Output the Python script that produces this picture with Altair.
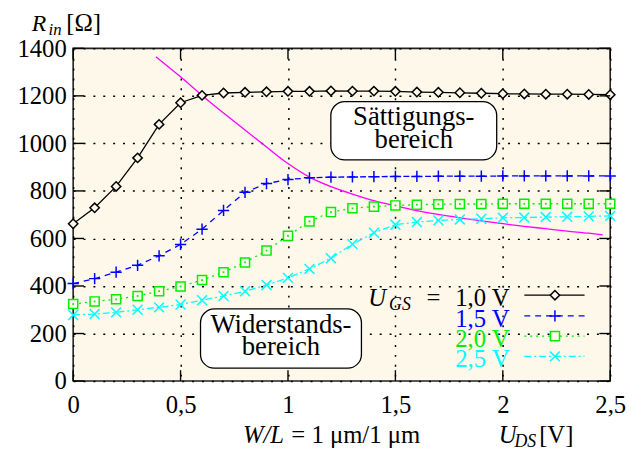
import altair as alt
import pandas as pd

# ---------------- data ----------------
u_ds = [0.0, 0.1, 0.2, 0.3, 0.4, 0.5, 0.6, 0.7, 0.8, 0.9, 1.0, 1.1, 1.2,
        1.3, 1.4, 1.5, 1.6, 1.7, 1.8, 1.9, 2.0, 2.1, 2.2, 2.3, 2.4, 2.5]
r_10 = [662, 729, 819, 939, 1080, 1171, 1202, 1212, 1215, 1217, 1219, 1219, 1221,
        1220, 1220, 1219, 1216, 1215, 1213, 1211, 1209, 1208, 1207, 1207, 1206, 1205]
r_15 = [410, 431, 458, 487, 527, 575, 639, 718, 794, 831, 848, 855, 858,
        859, 860, 861, 861, 862, 862, 862, 863, 863, 863, 863, 863, 863]
r_20 = [324, 335, 344, 358, 378, 398, 425, 458, 499, 549, 611, 672, 711,
        727, 734, 739, 742, 744, 745, 745, 746, 746, 746, 746, 746, 746]
r_25 = [278, 282, 289, 300, 310, 322, 340, 358, 378, 404, 434, 472, 517,
        576, 624, 658, 669, 676, 680, 683, 687, 688, 690, 691, 693, 695]

border_x = [0.385, 0.5, 0.6, 0.7, 0.8, 0.9, 1.0, 1.1, 1.2, 1.3, 1.4, 1.5,
            1.6, 1.7, 1.8, 1.9, 2.0, 2.1, 2.2, 2.3, 2.4, 2.465]
border_r = [1365, 1280, 1202, 1128, 1056, 985, 915, 858, 818, 787, 759, 737,
            717, 701, 687, 674, 662, 651, 641, 631, 622, 615]

x_ticks = [0, 0.5, 1, 1.5, 2, 2.5]
y_ticks = [0, 200, 400, 600, 800, 1000, 1200, 1400]

legend_labels = ["1,0 V", "1,5 V", "2,0 V", "2,5 V"]
box_sat = ["Sättigungs-", "bereich"]
box_wid = ["Widerstands-", "bereich"]

# ---------------- style ----------------
FONT = "Liberation Serif"
BG = "#fdf8ea"
W, H = 544, 337

xs = alt.Scale(domain=[0, 2.5], nice=False, zero=False)
ys = alt.Scale(domain=[0, 1400], nice=False, zero=False)

x_axis = alt.Axis(values=x_ticks, title=None, grid=True, gridColor="black",
                  gridDash=[2, 8], gridWidth=1.5, ticks=False, tickSize=0,
                  domain=False, labelFont=FONT, labelFontSize=25,
                  labelColor="black", labelPadding=32,
                  labelBaseline="alphabetic", labelFlush=False,
                  labelExpr="replace(format(datum.value, '~g'), '.', ',')")
y_axis = alt.Axis(values=y_ticks, title=None, grid=True, gridColor="black",
                  gridDash=[2, 8], gridWidth=1.5, ticks=False, tickSize=0,
                  domain=False, labelFont=FONT, labelFontSize=25,
                  labelColor="black", labelPadding=7, format="d",
                  labelFlush=False)


def X(f):
    return alt.X(f, scale=xs, axis=x_axis)


def Y(f):
    return alt.Y(f, scale=ys, axis=y_axis)


one = pd.DataFrame({"a": [0]})


def text(t, x, y, size, style="normal", align="left", color="black"):
    return alt.Chart(one).mark_text(
        text=t, font=FONT, fontSize=size, fontStyle=style, align=align,
        baseline="alphabetic", color=color).encode(
        x=alt.value(x), y=alt.value(y))


layers = []

# magenta boundary curve
df_b = pd.DataFrame({"U": border_x, "R": border_r})
layers.append(alt.Chart(df_b).mark_line(color="#ff00ff", strokeWidth=1.3,
                                        interpolate="monotone").encode(
    x=X("U:Q"), y=Y("R:Q")))

plus_path = "M-1,0L1,0M0,-1L0,1"
x_path = "M-1,-1L1,1M-1,1L1,-1"

series = [
    (r_10, "black", None, "diamond", 90, True),
    (r_15, "#0000ff", [6, 5], plus_path, 130, False),
    (r_20, "#00ee00", [2, 4], "square", 85, True),
    (r_25, "#00ffff", [7, 3, 2, 3], x_path, 100, False),
]

for vals, col, dash, shape, size, fill_bg in series:
    df = pd.DataFrame({"U": u_ds, "R": vals})
    lk = dict(color=col, strokeWidth=1.3)
    if dash:
        lk["strokeDash"] = dash
    layers.append(alt.Chart(df).mark_line(**lk).encode(x=X("U:Q"), y=Y("R:Q")))
    pk = dict(shape=shape, size=size, stroke=col, strokeWidth=1.5,
              opacity=1, clip=False)
    if fill_bg:
        pk.update(filled=True, fill=BG, fillOpacity=1)
    else:
        pk.update(filled=False)
    layers.append(alt.Chart(df).mark_point(**pk).encode(x=X("U:Q"), y=Y("R:Q")))
    if shape == "square":
        layers.append(alt.Chart(df).mark_point(
            shape="square", size=3, filled=True, color=col, opacity=1).encode(
            x=X("U:Q"), y=Y("R:Q")))

# inward ticks on all four sides
dxt = pd.DataFrame({"t": x_ticks})
dyt = pd.DataFrame({"t": y_ticks})
for y0, y1 in [(H, H - 11), (0, 11)]:
    layers.append(alt.Chart(dxt).mark_rule(color="black", strokeWidth=1.4).encode(
        x=X("t:Q"), y=alt.value(y0), y2=alt.value(y1)))
for x0, x1 in [(0, 11), (W, W - 11)]:
    layers.append(alt.Chart(dyt).mark_rule(color="black", strokeWidth=1.4).encode(
        y=Y("t:Q"), x=alt.value(x0), x2=alt.value(x1)))

# region boxes
for (bx0, bx1, by0, by1), lines in [((261, 429, 54, 113), box_sat),
                                    ((129, 292, 264, 324), box_wid)]:
    layers.append(alt.Chart(one).mark_rect(
        fill="white", stroke="black", strokeWidth=1.3, cornerRadius=14).encode(
        x=alt.value(bx0), x2=alt.value(bx1), y=alt.value(by0), y2=alt.value(by1)))
    cx = (bx0 + bx1) / 2
    layers.append(text(lines[0], cx, by0 + 24, 27, align="center"))
    layers.append(text(lines[1], cx, by0 + 47, 27, align="center"))

# legend
leg_cols = ["black", "#0000ff", "#00ee00", "#00ffff"]
leg_dash = [None, [6, 5], [2, 4], [7, 3, 2, 3]]
leg_shape = ["diamond", plus_path, "square", x_path]
leg_size = [90, 130, 85, 100]
row_y = [250, 271, 291.5, 312]
for i in range(4):
    rk = dict(color=leg_cols[i], strokeWidth=1.3)
    if leg_dash[i]:
        rk["strokeDash"] = leg_dash[i]
    layers.append(alt.Chart(one).mark_rule(**rk).encode(
        x=alt.value(457), x2=alt.value(518), y=alt.value(row_y[i])))
    pk = dict(shape=leg_shape[i], size=leg_size[i], stroke=leg_cols[i],
              strokeWidth=1.5, opacity=1)
    if i in (0, 2):
        pk.update(filled=True, fill=BG, fillOpacity=1)
    else:
        pk.update(filled=False)
    layers.append(alt.Chart(one).mark_point(**pk).encode(
        x=alt.value(488), y=alt.value(row_y[i])))
    layers.append(text(legend_labels[i], 442, row_y[i] + 11, 25,
                       align="right", color=leg_cols[i]))
layers.append(text("=", 358, 261, 25, align="left"))
layers.append(text("U", 299, 261, 25, style="italic"))
layers.append(text("GS", 320, 265, 18, style="italic"))

# axis titles
layers.append(text("R", -42, -18, 24, style="italic"))
layers.append(text("in", -25, -14, 17, style="italic"))
layers.append(text("[Ω]", -7, -18, 25))
layers.append(text("W/L", 172, 400, 25, style="italic"))
layers.append(text("= 1 μm/1 μm", 221, 400, 25))
layers.append(text("U", 431, 400, 25, style="italic"))
layers.append(text("DS", 447, 404, 18, style="italic"))
layers.append(text("[V]", 472, 400, 25))

chart = alt.layer(*layers).properties(
    width=W, height=H,
    autosize=alt.AutoSizeParams(type="none"),
    padding={"left": 66, "top": 38, "right": 18, "bottom": 68},
).configure(background="white").configure_view(
    fill=BG, stroke="#222222", strokeWidth=1.6)

chart.save("out.html", embed_options={"renderer": "svg", "actions": False})
